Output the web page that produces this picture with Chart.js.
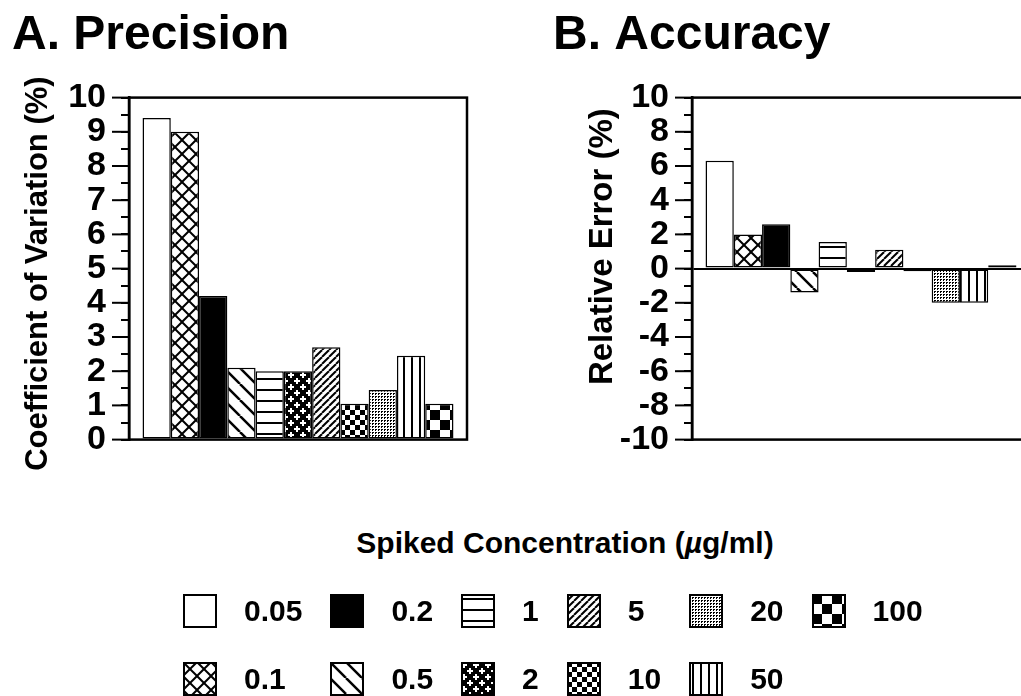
<!DOCTYPE html>
<html>
<head>
<meta charset="utf-8">
<script src="https://cdn.jsdelivr.net/npm/chart.js@4.4.1/dist/chart.umd.min.js"></script>
<style>
    html, body { margin: 0; padding: 0; background: #fff; overflow: hidden; width: 1021px; height: 696px; }
    body { position: relative; font-family: "Liberation Sans", Arial, Helvetica, sans-serif; font-weight: bold; color: #000; }
    #precisionChart { position: absolute; left: 0; top: 0; }
    #accuracyChart { position: absolute; left: 541px; top: 0; }
    #xTitle { position: absolute; left: 0; top: 528px; width: 1130px; text-align: center; font-size: 30px; line-height: 30px; }
    #legend { position: absolute; left: 183px; top: 594px; display: grid; grid-auto-flow: column; grid-template-rows: 34px 34px; row-gap: 34px; column-gap: 28px; }
    .legend-item { display: flex; align-items: center; font-size: 30px; line-height: 34px; }
    .legend-item canvas { margin-right: 27px; }
</style>
</head>
<body>
<canvas id="precisionChart" width="510" height="475"></canvas>
<canvas id="accuracyChart" width="500" height="475"></canvas>
<div id="xTitle">Spiked Concentration (<i>µ</i>g/ml)</div>
<div id="legend"></div>

<script>
// Spiked concentrations (ug/ml) and the two measured series
const concentrations = ['0.05', '0.1', '0.2', '0.5', '1', '2', '5', '10', '20', '50', '100'];
const precisionCV = [9.4, 9.0, 4.2, 2.1, 2.0, 2.0, 2.7, 1.05, 1.45, 2.45, 1.05];
const accuracyRE = [6.3, 2.0, 2.6, -1.4, 1.55, -0.2, 1.1, -0.15, -2.0, -2.0, 0.2];

// y tick labels
const precisionTicks = [0, 1, 2, 3, 4, 5, 6, 7, 8, 9, 10];
const accuracyTicks = [-10, -8, -6, -4, -2, 0, 2, 4, 6, 8, 10];

// hatch style for each concentration, same order as above
const hatches = ['white', 'cross', 'black', 'backDiag', 'hLines', 'plus', 'fwdDiag', 'checkSmall', 'stipple', 'vLines', 'checkBig'];

const FONT = '"Liberation Sans", Arial, Helvetica, sans-serif';
Chart.defaults.font.family = FONT;
Chart.defaults.font.weight = 'bold';
Chart.defaults.color = '#000';

function makeTile(kind) {
    const size = { cross: 14, backDiag: 16, hLines: 11, plus: 12, fwdDiag: 7, checkSmall: 10, stipple: 3, vLines: 8, checkBig: 20 }[kind];
    const c = document.createElement('canvas');
    c.width = c.height = size;
    const g = c.getContext('2d');
    g.fillStyle = '#fff';
    g.fillRect(0, 0, size, size);
    g.fillStyle = '#000';
    g.strokeStyle = '#000';

    const diag = (down, w) => {
        g.lineWidth = w;
        for (const k of [-size, 0, size]) {
            g.beginPath();
            if (down) { g.moveTo(k, 0); g.lineTo(k + size, size); }
            else { g.moveTo(k, size); g.lineTo(k + size, 0); }
            g.stroke();
        }
    };

    switch (kind) {
        case 'cross':
            diag(true, 2);
            diag(false, 2);
            break;
        case 'backDiag':
            diag(true, 2.5);
            break;
        case 'fwdDiag':
            diag(false, 2);
            break;
        case 'hLines':
            g.fillRect(0, 4, size, 2);
            break;
        case 'vLines':
            g.fillRect(3, 0, 2, size);
            break;
        case 'plus':
            g.fillRect(0, 0, size, size);
            g.fillStyle = '#fff';
            [[3, 3], [9, 9]].forEach(([cx, cy]) => {
                g.fillRect(cx - 3, cy - 1, 6, 2);
                g.fillRect(cx - 1, cy - 3, 2, 6);
            });
            break;
        case 'checkSmall':
        case 'checkBig':
            g.fillRect(0, 0, size / 2, size / 2);
            g.fillRect(size / 2, size / 2, size / 2, size / 2);
            break;
        case 'stipple':
            // small dot clusters on a 3px grid
            g.fillRect(0, 0, 2, 1);
            g.fillRect(0, 1, 1, 1);
            break;
    }
    return c;
}

function fillFor(ctx, kind) {
    if (kind === 'white') return '#fff';
    if (kind === 'black') return '#000';
    return ctx.createPattern(makeTile(kind), 'repeat');
}

// box round the plot area
const framePlugin = {
    id: 'frame',
    afterDatasetsDraw(chart) {
        const { ctx, chartArea: a } = chart;
        ctx.save();
        ctx.strokeStyle = '#000';
        ctx.lineWidth = 2.5;
        ctx.strokeRect(a.left, a.top, a.right - a.left, a.bottom - a.top);
        ctx.restore();
    }
};

// labelled ticks are drawn twice as long as the minor ones
const majorTicksPlugin = {
    id: 'majorTicks',
    afterDraw(chart) {
        const y = chart.scales.y;
        const ctx = chart.ctx;
        ctx.save();
        ctx.strokeStyle = '#000';
        ctx.lineWidth = 2;
        y.ticks.forEach((t, i) => {
            if (t.label === '') return;
            const py = y.getPixelForTick(i);
            ctx.beginPath();
            ctx.moveTo(y.right - 17, py);
            ctx.lineTo(y.right, py);
            ctx.stroke();
        });
        ctx.restore();
    }
};

// rotated y axis title
const yTitlePlugin = {
    id: 'yTitle',
    afterDraw(chart, args, opts) {
        const a = chart.chartArea;
        const ctx = chart.ctx;
        ctx.save();
        ctx.translate(opts.x, (a.top + a.bottom) / 2 + opts.shift);
        ctx.rotate(-Math.PI / 2);
        ctx.font = `bold ${opts.size}px ${FONT}`;
        ctx.textAlign = 'center';
        ctx.textBaseline = 'middle';
        ctx.fillStyle = '#000';
        ctx.fillText(opts.text, 0, 0);
        ctx.restore();
    }
};

function buildChart(canvasId, cfg) {
    const canvas = document.getElementById(canvasId);
    const ctx = canvas.getContext('2d');

    const datasets = concentrations.map((c, i) => ({
        label: c,
        data: [cfg.values[i]],
        backgroundColor: fillFor(ctx, hatches[i]),
        borderColor: '#000',
        borderWidth: 1.5,
        borderSkipped: false,
        categoryPercentage: 0.92,
        barPercentage: 1
    }));

    return new Chart(ctx, {
        type: 'bar',
        data: { labels: [''], datasets: datasets },
        options: {
            responsive: false,
            animation: false,
            layout: { padding: { left: 12, right: cfg.padRight, top: 0, bottom: 28 } },
            plugins: {
                legend: { display: false },
                tooltip: { enabled: false },
                title: {
                    display: true,
                    text: cfg.title,
                    align: 'start',
                    color: '#000',
                    font: { size: 48, weight: 'bold' },
                    padding: { top: 7, bottom: 33 }
                },
                yTitle: { text: cfg.yTitle, size: cfg.yTitleSize, x: cfg.yTitleX, shift: cfg.yTitleShift }
            },
            scales: {
                x: { display: false },
                y: {
                    min: cfg.ticks[0],
                    max: cfg.ticks[cfg.ticks.length - 1],
                    afterFit: scale => { scale.width = cfg.axisWidth; },
                    border: { display: true, color: '#000', width: 2.5 },
                    grid: {
                        drawOnChartArea: cfg.zeroLine,
                        color: c => (c.tick && c.tick.value === 0 ? '#000' : 'rgba(0,0,0,0)'),
                        lineWidth: 2,
                        tickColor: '#000',
                        tickWidth: 2,
                        tickLength: 8
                    },
                    ticks: {
                        stepSize: cfg.minorStep,
                        autoSkip: false,
                        padding: 15,
                        color: '#000',
                        font: { size: 34, weight: 'bold' },
                        callback: v => (cfg.ticks.includes(v) ? String(v) : '')
                    }
                }
            }
        },
        plugins: [framePlugin, majorTicksPlugin, yTitlePlugin]
    });
}

buildChart('precisionChart', {
    title: 'A. Precision',
    values: precisionCV,
    ticks: precisionTicks,
    minorStep: 0.5,
    zeroLine: false,
    axisWidth: 117,
    padRight: 43,
    yTitle: 'Coefficient of Variation (%)',
    yTitleSize: 31,
    yTitleX: 38,
    yTitleShift: 5
});

buildChart('accuracyChart', {
    title: 'B. Accuracy',
    values: accuracyRE,
    ticks: accuracyTicks,
    minorStep: 1,
    zeroLine: true,
    axisWidth: 139,
    padRight: 11,
    yTitle: 'Relative Error (%)',
    yTitleSize: 33,
    yTitleX: 62,
    yTitleShift: -22
});

// legend, filled column by column like the bars
const legendBox = document.getElementById('legend');
concentrations.forEach((c, i) => {
    const item = document.createElement('div');
    item.classList.add('legend-item');
    const sw = document.createElement('canvas');
    sw.width = sw.height = 34;
    const g = sw.getContext('2d');
    g.fillStyle = fillFor(g, hatches[i]);
    g.fillRect(0, 0, 34, 34);
    g.strokeStyle = '#000';
    g.lineWidth = 2;
    g.strokeRect(1, 1, 32, 32);
    item.appendChild(sw);
    const label = document.createElement('span');
    label.textContent = c;
    item.appendChild(label);
    legendBox.appendChild(item);
});
</script>
</body>
</html>
